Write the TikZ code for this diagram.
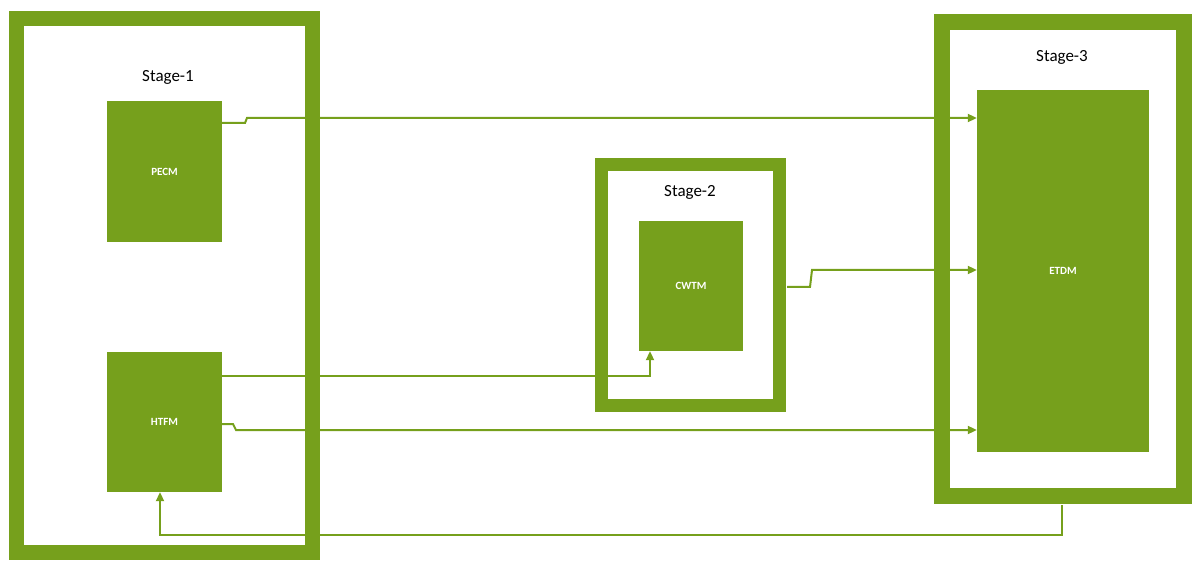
\documentclass[tikz,border=0pt]{standalone}
\usepackage{fontspec}
\setmainfont{Carlito}
\usetikzlibrary{arrows.meta}
\definecolor{gr}{HTML}{76A01C}
\begin{document}
\begin{tikzpicture}[x=1pt,y=-1pt,
  stage/.style={draw=gr,line width=15pt,fill=white},
  mod/.style={fill=gr,text=white,font=\bfseries\fontsize{11}{13}\selectfont,inner sep=0},
  lab/.style={font=\fontsize{17}{19}\selectfont,text=black},
  con/.style={draw=gr,line width=2pt,-{Triangle[length=9pt,width=8pt]}}]
\useasboundingbox (0,0) rectangle (1200,572);
\draw[stage] (16,19) rectangle (312,552);
\draw[stage,line width=13pt] (601,165) rectangle (779,405);
\draw[stage,line width=16pt] (942,22) rectangle (1184,496);
\node[lab] (l1) at (168,77) {Stage-1};
\node[lab] (l2) at (690,192) {Stage-2};
\node[lab] (l3) at (1062,57) {Stage-3};
\node[mod,minimum width=115pt,minimum height=141pt] (pecm) at (164.5,171.5) {PECM};
\node[mod,minimum width=115pt,minimum height=140pt] (htfm) at (164.5,422) {HTFM};
\node[mod,minimum width=104pt,minimum height=130pt] (cwtm) at (691,286) {CWTM};
\node[mod,minimum width=172pt,minimum height=362pt] (etdm) at (1063,271) {ETDM};
\coordinate (s2e) at (787,287);
\coordinate (s3s) at (1062,505);
\draw[con] (pecm.east |- 0,123) -- (245,123) -- (247,118) -- (etdm.west |- 0,118);
\draw[con] (htfm.east |- 0,376) -- (650,376) -- (cwtm.south -| 650,0);
\draw[con] (htfm.east |- 0,424) -- (233,424) -- (236,430) -- (etdm.west |- 0,430);
\draw[con] (s2e) -- (810,287) -- (812,270) -- (etdm.west |- 0,270);
\draw[con] (s3s) -- (1062,535) -- (160,535) -- (htfm.south -| 160,0);
\end{tikzpicture}
\end{document}
